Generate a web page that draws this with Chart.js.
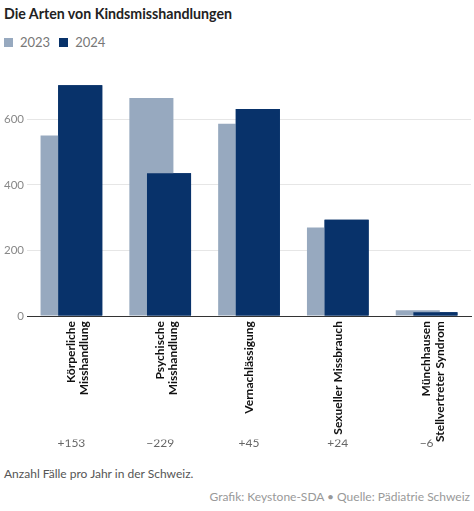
<!DOCTYPE html>
<html>
<head>
<meta charset="utf-8">
<script src="https://cdn.jsdelivr.net/npm/chart.js@4.4.1/dist/chart.umd.min.js"></script>
<style>
    body { margin: 0; background: #fff; font-family: Lato, sans-serif; width: 474px; height: 511px; overflow: hidden; position: relative; }
    #title { position: absolute; left: 4px; top: 5px; font-size: 14.2px; font-weight: bold; color: #222; }
    #legend { position: absolute; left: 4px; top: 34px; font-size: 13px; color: #777; display: flex; align-items: center; }
    #legend span.box { display: inline-block; width: 9px; height: 9px; margin-right: 7px; }
    #legend span.txt { margin-right: 9px; }
    #wrap { position: absolute; left: 0; top: 60px; width: 474px; height: 387px; }
    #note { position: absolute; left: 4px; top: 466px; font-size: 12px; color: #555; }
    #source { position: absolute; right: 4px; top: 489px; font-size: 12px; color: #999; }
</style>
</head>
<body>
<div id="title">Die Arten von Kindsmisshandlungen</div>
<div id="legend"></div>
<div id="wrap"><canvas id="chart"></canvas></div>
<div id="note">Anzahl Fälle pro Jahr in der Schweiz.</div>
<div id="source">Grafik: Keystone-SDA • Quelle: Pädiatrie Schweiz</div>

<script>
// Daten
const categories = [
    ["Körperliche", "Misshandlung"],
    ["Psychische", "Misshandlung"],
    "Vernachlässigung",
    "Sexueller Missbrauch",
    ["Münchhausen", "Stellvertreter Syndrom"]
];
const values2023 = [551, 665, 587, 270, 18];
const values2024 = [704, 436, 632, 294, 12];
const changeLabels = ["+153", "−229", "+45", "+24", "−6"];
const yTicks = [0, 200, 400, 600];

const color2023 = "#97a9bf";
const color2024 = "#08326a";

// 2024 über 2023 zeichnen
const frontPlugin = {
    id: "front",
    afterDatasetsDraw(chart) {
        const area = chart.chartArea;
        const c = chart.ctx;
        c.save();
        c.beginPath();
        c.rect(area.left, area.top, area.width, area.height + 1);
        c.clip();
        chart.getDatasetMeta(1).controller.draw();
        c.restore();
    }
};

document.addEventListener("DOMContentLoaded", function () {
    const legend = document.getElementById("legend");
    [["2023", color2023], ["2024", color2024]].forEach(function (item) {
        legend.innerHTML += '<span class="box" style="background:' + item[1] + '"></span><span class="txt">' + item[0] + '</span>';
    });

    const ctx = document.getElementById("chart").getContext("2d");

    new Chart(ctx, {
        type: "bar",
        data: {
            labels: categories,
            datasets: [
                { label: "2023", data: values2023, backgroundColor: color2023 },
                { label: "2024", data: values2024, backgroundColor: color2024 }
            ]
        },
        plugins: [frontPlugin],
        options: {
            responsive: true,
            maintainAspectRatio: false,
            animation: false,
            // Balken überlappen sich (barPercentage > 1)
            barPercentage: 2.5,
            categoryPercentage: 0.397,
            layout: { padding: { left: 2, right: 3, top: 8, bottom: 0 } },
            plugins: {
                tooltip: { enabled: false },
                legend: { display: false }
            },
            scales: {
                x: {
                    offset: true,
                    grid: { display: false, drawTicks: false },
                    border: { display: true, color: "#333", width: 1 },
                    ticks: {
                        minRotation: 90,
                        maxRotation: 90,
                        autoSkip: false,
                        padding: 5,
                        color: "#111",
                        font: { family: "Lato", size: 12, weight: "bold", lineHeight: 1.1 }
                    }
                },
                x2: {
                    type: "category",
                    position: "bottom",
                    labels: changeLabels,
                    offset: true,
                    grid: { display: false, drawTicks: false },
                    border: { display: false },
                    ticks: {
                        maxRotation: 0,
                        autoSkip: false,
                        padding: -11,
                        color: "#666",
                        font: { family: "Lato", size: 12 }
                    }
                },
                y: {
                    min: 0,
                    max: 751,
                    border: { display: false },
                    grid: { color: "#e6e6e6", drawTicks: false },
                    afterFit: function (scale) {
                        scale.width = 25;
                    },
                    afterBuildTicks: function (scale) {
                        scale.ticks = yTicks.map(v => ({ value: v }));
                    },
                    ticks: {
                        padding: 3,
                        color: "#888",
                        font: { family: "Lato", size: 11.5 }
                    }
                }
            }
        }
    });
});
</script>
</body>
</html>
